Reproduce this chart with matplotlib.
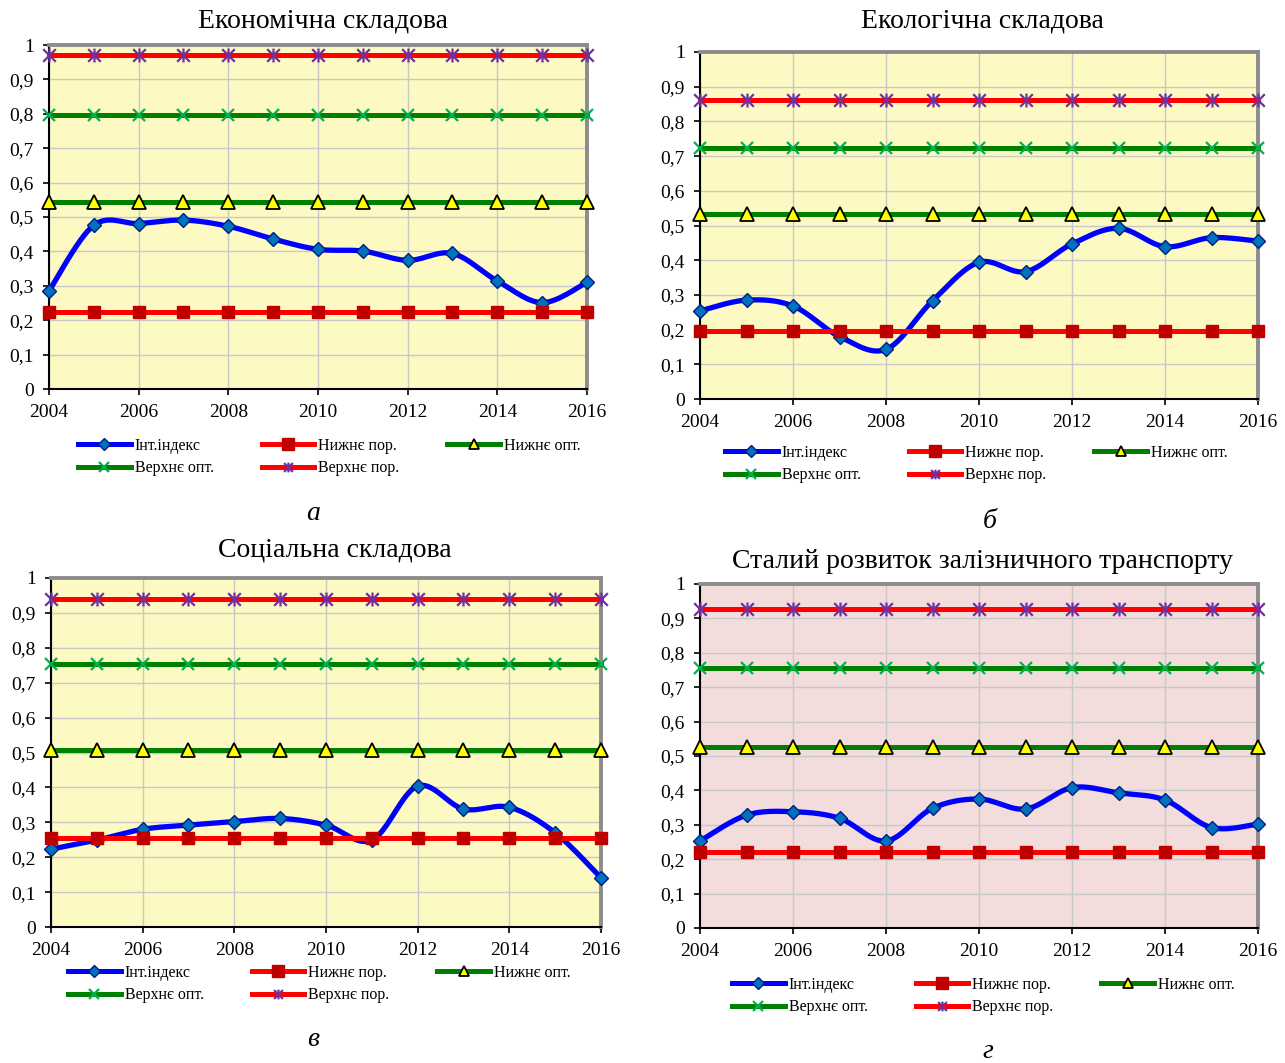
import numpy as np
import matplotlib
matplotlib.use("Agg")
import matplotlib.pyplot as plt
from matplotlib.lines import Line2D
from matplotlib.path import Path

plt.rcParams['font.family'] = ['Liberation Serif', 'DejaVu Serif']

years = list(range(2004, 2017))

# Panel а — Економічна складова
econ_index = [0.285, 0.476, 0.481, 0.491, 0.473, 0.436, 0.406, 0.401, 0.374, 0.394, 0.314, 0.251, 0.310]
econ_levels = {'low_thr': 0.224, 'low_opt': 0.544, 'up_opt': 0.797, 'up_thr': 0.971}

# Panel б — Екологічна складова
eco_index = [0.254, 0.285, 0.268, 0.180, 0.143, 0.283, 0.394, 0.367, 0.447, 0.492, 0.439, 0.465, 0.455]
eco_levels = {'low_thr': 0.196, 'low_opt': 0.533, 'up_opt': 0.723, 'up_thr': 0.862}

# Panel в — Соціальна складова
soc_index = [0.223, 0.249, 0.280, 0.292, 0.302, 0.311, 0.292, 0.249, 0.404, 0.338, 0.343, 0.270, 0.141]
soc_levels = {'low_thr': 0.255, 'low_opt': 0.507, 'up_opt': 0.754, 'up_thr': 0.940}

# Panel г — Сталий розвиток залізничного транспорту
sust_index = [0.253, 0.328, 0.338, 0.319, 0.253, 0.348, 0.375, 0.346, 0.408, 0.393, 0.372, 0.292, 0.302]
sust_levels = {'low_thr': 0.221, 'low_opt': 0.526, 'up_opt': 0.756, 'up_thr': 0.927}

titles = ['Економічна складова', 'Екологічна складова', 'Соціальна складова',
          'Сталий розвиток залізничного транспорту']
captions = ['а', 'б', 'в', 'г']
labels = {'idx': 'Інт.індекс', 'low_thr': 'Нижнє пор.', 'low_opt': 'Нижнє опт.',
          'up_opt': 'Верхнє опт.', 'up_thr': 'Верхнє пор.'}
x_ticks = [2004, 2006, 2008, 2010, 2012, 2014, 2016]
y_ticks = [0, 0.1, 0.2, 0.3, 0.4, 0.5, 0.6, 0.7, 0.8, 0.9, 1.0]

# Excel-style star marker: an "x" with a vertical stroke
STAR = Path([(-1, -1), (1, 1), (-1, 1), (1, -1), (0, -1.1), (0, 1.1)],
            [Path.MOVETO, Path.LINETO, Path.MOVETO, Path.LINETO, Path.MOVETO, Path.LINETO])


def smooth(xs, ys, n=30):
    xs = np.asarray(xs, float)
    ys = np.asarray(ys, float)
    P = np.column_stack([xs, ys])
    m = len(P)
    out = []
    for i in range(m - 1):
        p0 = P[i - 1] if i > 0 else P[i]
        p1 = P[i]
        p2 = P[i + 1]
        p3 = P[i + 2] if i + 2 < m else P[i + 1]
        c1 = p1 + (p2 - p0) / 6.0
        c2 = p2 - (p3 - p1) / 6.0
        t = np.linspace(0, 1, n)[:, None]
        seg = ((1 - t) ** 3) * p1 + 3 * ((1 - t) ** 2) * t * c1 + 3 * (1 - t) * t ** 2 * c2 + t ** 3 * p2
        out.append(seg if i == 0 else seg[1:])
    out = np.vstack(out)
    return out[:, 0], out[:, 1]


def fmt(v):
    if abs(v) < 1e-9:
        return '0'
    if abs(v - 1) < 1e-9:
        return '1'
    return f'{v:.1f}'.replace('.', ',')


W, H = 1285, 1063
fig = plt.figure(figsize=(W / 100, H / 100), dpi=100)
fig.patch.set_facecolor('white')

# axes boxes in pixels: left, top, right, bottom
boxes = [(49, 45, 587, 389), (700, 52, 1258, 399), (51, 578, 601, 927), (700, 584, 1258, 928)]
bgs = ['#FCF9C2', '#FCF9C2', '#FCF9C2', '#F2DCDC']
title_pos = [(323, 21), (982, 21), (335, 550), (983, 562)]
cap_pos = [(313, 513), (990, 521), (313, 1040), (988, 1052)]
leg_pos = [(78, 438), (725, 445), (68, 965), (732, 977)]

panels = [(econ_index, econ_levels), (eco_index, eco_levels),
          (soc_index, soc_levels), (sust_index, sust_levels)]

for k, ((idx, lv), (l, t, r, b)) in enumerate(zip(panels, boxes)):
    ax = fig.add_axes([l / W, 1 - b / H, (r - l) / W, (b - t) / H])
    ax.set_facecolor(bgs[k])
    ax.set_xlim(2004, 2016)
    ax.set_ylim(0, 1)
    ax.set_xticks(x_ticks)
    ax.set_yticks(y_ticks)
    ax.set_yticklabels([fmt(v) for v in y_ticks])
    ax.grid(True, color='#C8C8C8', lw=1.0, zorder=0)
    ax.set_axisbelow(True)
    ax.tick_params(direction='out', length=4, width=1.2, labelsize=14, color='black')
    ax.tick_params(axis='x', pad=7)
    ax.tick_params(axis='y', pad=7)
    for s in ['left', 'bottom']:
        ax.spines[s].set_color('black')
        ax.spines[s].set_linewidth(1.5)
    for s in ['top', 'right']:
        ax.spines[s].set_color('#8C8C8C')
        ax.spines[s].set_linewidth(2.8)

    sx, sy = smooth(years, idx)
    ax.plot(sx, sy, color='#0000FF', lw=3.8, zorder=3, clip_on=False, solid_capstyle='round')
    ax.plot(years, idx, ls='none', marker='D', ms=7.5, mfc='#0070C0', mec='#002080',
            mew=1.0, zorder=4, clip_on=False)

    n = len(years)
    ax.plot(years, [lv['low_thr']] * n, color='#FF0000', lw=3.6, marker='s', ms=8.5,
            mfc='#C00000', mec='#C00000', zorder=5, clip_on=False)
    ax.plot(years, [lv['low_opt']] * n, color='#008000', lw=3.6, marker='^', ms=10,
            mfc='#FFFF00', mec='black', mew=1.3, zorder=5, clip_on=False)
    ax.plot(years, [lv['up_opt']] * n, color='#008000', lw=3.6, marker='x', ms=9,
            mec='#00B050', mew=1.6, zorder=5, clip_on=False)
    ax.plot(years, [lv['up_thr']] * n, color='#FF0000', lw=3.6, marker=STAR, ms=10,
            mec='#7030A0', mew=1.6, zorder=5, clip_on=False)

    tx, ty = title_pos[k]
    fig.text(tx / W, 1 - ty / H, titles[k], ha='center', va='center', fontsize=20)
    cx, cy = cap_pos[k]
    fig.text(cx / W, 1 - cy / H, captions[k], ha='center', va='center', fontsize=20, style='italic')

    h_idx = Line2D([], [], color='#0000FF', lw=3.6, marker='D', ms=6, mfc='#0070C0', mec='#002080')
    h_lt = Line2D([], [], color='#FF0000', lw=3.6, marker='s', ms=9, mfc='#C00000', mec='#C00000')
    h_lo = Line2D([], [], color='#008000', lw=3.6, marker='^', ms=7, mfc='#FFFF00', mec='black', mew=1.3)
    h_uo = Line2D([], [], color='#008000', lw=3.6, marker='x', ms=7, mec='#00B050', mew=1.6)
    h_ut = Line2D([], [], color='#FF0000', lw=3.6, marker=STAR, ms=7, mec='#7030A0', mew=1.6)
    handles = [h_idx, h_uo, h_lt, h_ut, h_lo]
    labs = [labels['idx'], labels['up_opt'], labels['low_thr'], labels['up_thr'], labels['low_opt']]
    lx, ly = leg_pos[k]
    fig.legend(handles, labs, loc='upper left', bbox_to_anchor=(lx / W, 1 - ly / H),
               bbox_transform=fig.transFigure, ncol=3, frameon=False, fontsize=11.5,
               handlelength=3.3, handletextpad=0.25, columnspacing=3.0, labelspacing=0.4,
               borderpad=0, borderaxespad=0)

fig.savefig('out.png', dpi=100)
